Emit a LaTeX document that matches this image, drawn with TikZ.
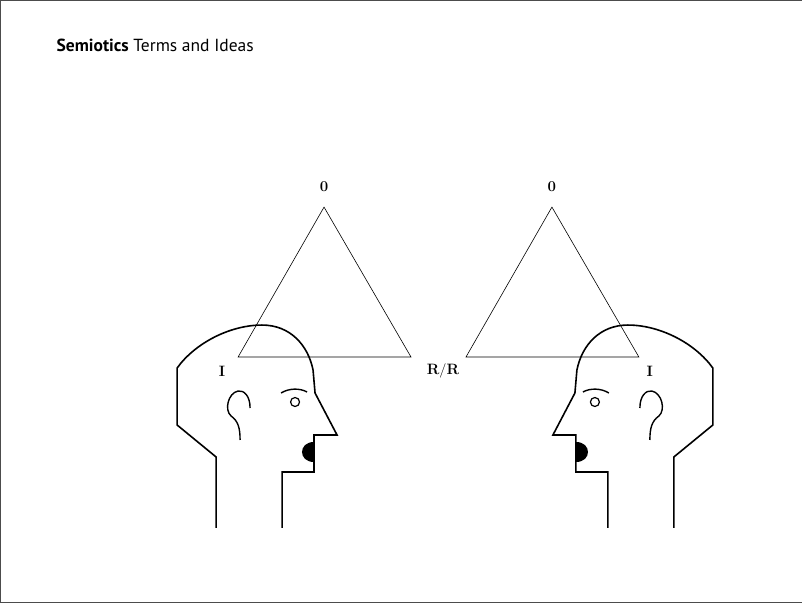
\documentclass[tikz,border=0pt]{standalone}
\usepackage{fontspec}
\newfontfamily\titlefont{PT Sans}
\usetikzlibrary{positioning}
\tikzset{vertex/.style={font=\bfseries\fontsize{15}{17}\selectfont,inner sep=1pt}}
\tikzset{outline/.style={draw=black,line width=1.6pt,line join=miter}}
\newcommand{\headshape}{%
  \draw[outline] (216,528) -- (216,457) -- (177,425) -- (177,368)
    .. controls (195,343) and (230,325) .. (262,325)
    .. controls (290,325) and (308,345) .. (313,370)
    -- (315,393) -- (337,435) -- (314,435) -- (314,472) -- (282,472) -- (282,528);
  \fill (314,442) .. controls (298,442) and (298,462) .. (314,462) -- cycle;
  \draw[line width=1.2pt] (295,402) circle (4.5);
  \draw[line width=1.4pt] (281,393) .. controls (289,388) and (300,388) .. (307,392);
  \draw[line width=1.4pt] (250,408) .. controls (250,396) and (244,390) .. (238,391)
    .. controls (228,393) and (224,410) .. (231,416)
    .. controls (238,421) and (240,428) .. (240,440);
}
\begin{document}
\begin{tikzpicture}[x=1pt,y=-1pt]
  \draw[black!70,fill=white] (0,0) rectangle (802,602);
  \node[anchor=west,font=\titlefont\fontsize{17.5}{20}\selectfont] (title) at (53,45) {\textbf{Semiotics} Terms and Ideas};
  % left triangle
  \draw[line width=0.6pt] (324,207) -- (238,357) -- (411,357) -- cycle;
  % right triangle
  \draw[line width=0.6pt] (552,207) -- (466,357) -- (639,357) -- cycle;
  \node[vertex] (objL) at (324,187) {0};
  \node[vertex] (objR) at (552,187) {0};
  \node[vertex] (intL) at (222,371) {I};
  \node[vertex] (intR) at (650,371) {I};
  \node[vertex] (rep) at (443,371) {R$/$R};
  % heads
  \headshape
  \begin{scope}[xshift=890pt,xscale=-1]
    \headshape
  \end{scope}
\end{tikzpicture}
\end{document}
